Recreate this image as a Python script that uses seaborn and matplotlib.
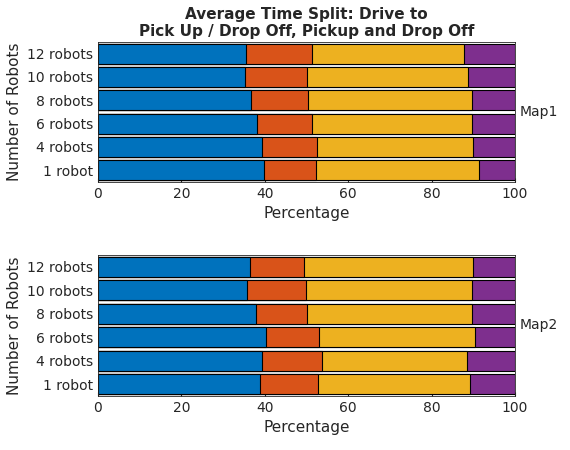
import numpy as np
import pandas as pd
import matplotlib
matplotlib.use("Agg")
import matplotlib.pyplot as plt
import seaborn as sns

categories = ["12 robots", "10 robots", "8 robots", "6 robots", "4 robots", "1 robot"]
segments = ["Drive to Pick Up", "Drive to Drop Off", "Pickup", "Drop Off"]
# segment percentages, Map1
map1_drive_pick = [35.5, 35.3, 36.7, 38.1, 39.3, 39.8]
map1_drive_drop = [15.8, 14.8, 13.7, 13.2, 13.2, 12.5]
map1_pickup     = [36.5, 38.6, 39.3, 38.4, 37.4, 39.1]
map1_dropoff    = [12.2, 11.3, 10.3, 10.3, 10.1, 8.6]
# Map2
map2_drive_pick = [36.5, 35.7, 37.9, 40.3, 39.3, 38.8]
map2_drive_drop = [12.9, 14.2, 12.2, 12.7, 14.4, 14.0]
map2_pickup     = [40.5, 39.8, 39.6, 37.4, 34.8, 36.4]
map2_dropoff    = [10.1, 10.3, 10.3, 9.6, 11.5, 10.8]

colors = ["#0072BD", "#D95319", "#EDB120", "#7E2F8E"]

sns.set_style("white")
plt.rcParams['font.family'] = ['DejaVu Sans']
fig = plt.figure(figsize=(5.7, 4.5), dpi=100)
ax1 = fig.add_axes([98/570, 1-182/450, 417/570, 140/450])
ax2 = fig.add_axes([98/570, 1-396/450, 417/570, 141/450])

def draw(ax, segs, name):
    cum = np.cumsum(np.array(segs), axis=0)
    for i in range(len(segs)-1, -1, -1):
        df = pd.DataFrame({"cat": categories, "val": cum[i]})
        sns.barplot(data=df, x="val", y="cat", order=categories, color=colors[i],
                    saturation=1, width=0.85, edgecolor="black", linewidth=0.8, ax=ax)
    ax.set_xlim(0, 100)
    ax.set_xticks([0, 20, 40, 60, 80, 100])
    ax.set_xlabel("Percentage", fontsize=11)
    ax.set_ylabel("Number of Robots", fontsize=11)
    ax.tick_params(labelsize=10, direction="in", length=3, left=True, bottom=True)
    for s in ax.spines.values():
        s.set_color("#262626"); s.set_linewidth(0.6)
    ax.text(1.01, 0.5, name, transform=ax.transAxes, va="center", ha="left", fontsize=10)

draw(ax1, [map1_drive_pick, map1_drive_drop, map1_pickup, map1_dropoff], "Map1")
draw(ax2, [map2_drive_pick, map2_drive_drop, map2_pickup, map2_dropoff], "Map2")
ax1.set_title("Average Time Split: Drive to\nPick Up / Drop Off, Pickup and Drop Off",
              fontsize=11, fontweight="bold", pad=4)
fig.savefig("out.png", dpi=100)
